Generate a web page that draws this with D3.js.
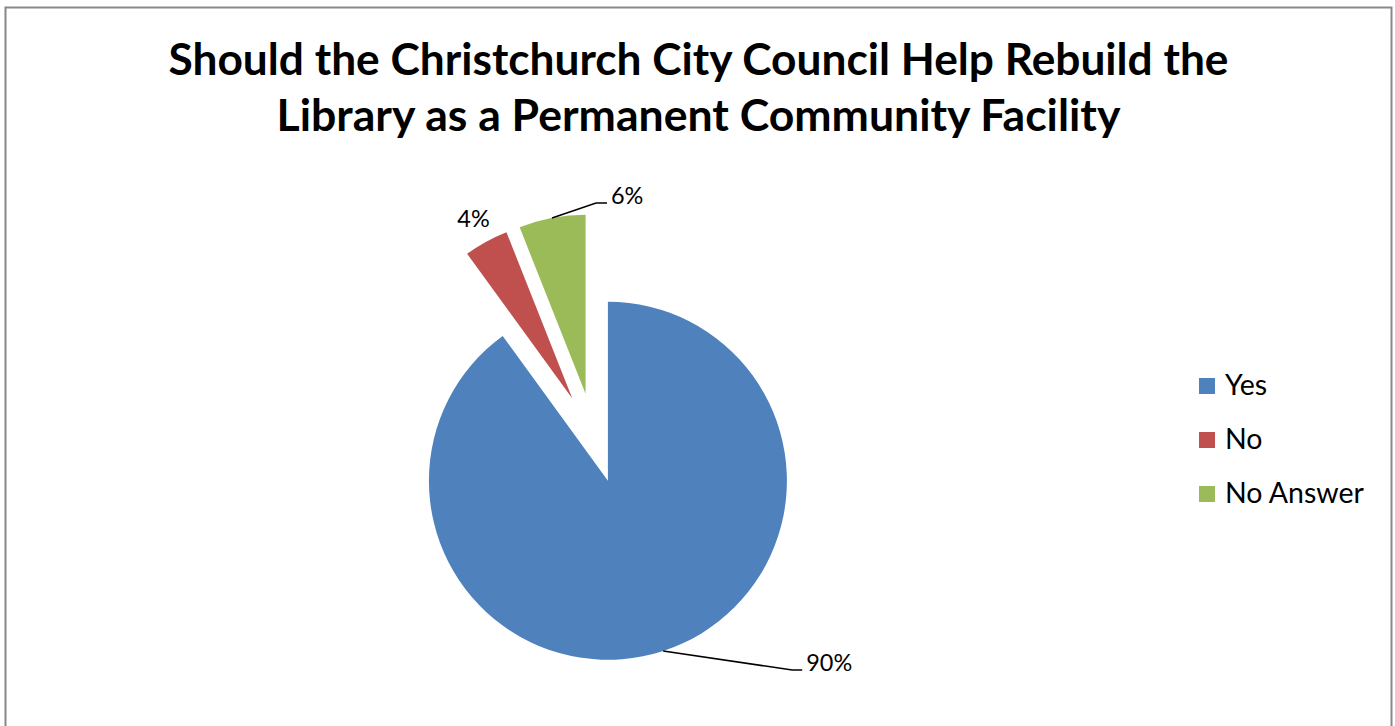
<html>
<head>
<style>
body
{
  margin:0;
  background:#fff;
}
</style>
<script src="https://cdnjs.cloudflare.com/ajax/libs/d3/7.8.5/d3.min.js"></script>
</head>
<body>
<script>
// chart data
var categories = ["Yes", "No", "No Answer"];
var values = [90, 4, 6];
var labels = ["90%", "4%", "6%"];
var colors = ["#4F81BD", "#C0504D", "#9BBB59"];
var titleLines = ["Should the Christchurch City Council Help Rebuild the",
                  "Library as a Permanent Community Facility"];

var w = 1395, h = 726;
var font = "Lato, 'Open Sans', sans-serif";

var svg = d3.select("body")
  .append("svg")
  .attr("width", w)
  .attr("height", h);

// chart frame
svg.append("rect")
  .attr("x", 5.5)
  .attr("y", 7.5)
  .attr("width", 1386)
  .attr("height", 740)
  .attr("fill", "#fff")
  .attr("stroke", "#888")
  .attr("stroke-width", 2);

// scale a text node so it is as wide as the target
function fit(sel, target)
{
  var tw = sel.node().getComputedTextLength();
  var fs = parseFloat(sel.attr("font-size"));
  sel.attr("font-size", fs * target / tw);
  return fs * target / tw;
}

// title
var titleWidths = [1060, 844];
var titleBase = [75, 131];
titleLines.forEach(function(t, i) {
  var tx = svg.append("text")
    .attr("x", 698.5)
    .attr("y", titleBase[i])
    .attr("text-anchor", "middle")
    .attr("font-family", font)
    .attr("font-weight", "bold")
    .attr("font-size", 40)
    .attr("fill", "#000")
    .text(t);
  fit(tx, titleWidths[i]);
});

// pie
var cx = 594, cy = 438;   // centre before explosion
var radius = 179;
var explode = 45;

var pie = d3.pie().sort(null).value(function(d) { return d; });
var arcs = pie(values);
var arc = d3.arc().innerRadius(0).outerRadius(radius);

function mid(a) { return (a.startAngle + a.endAngle) / 2; }
function offset(a, r) {
  var m = mid(a);
  return [Math.sin(m) * r, -Math.cos(m) * r];
}

var slices = svg.append("g")
  .attr("transform", "translate(" + cx + "," + cy + ")");

slices.selectAll("path")
  .data(arcs)
  .enter()
  .append("path")
  .attr("transform", function(d) {
    var o = offset(d, explode);
    return "translate(" + o[0] + "," + o[1] + ")";
  })
  .attr("d", arc)
  .attr("fill", function(d, i) { return colors[i]; });

// data labels (leader = elbow offset from the arc edge, null = free label)
var labelLayout = [
  {leader: [129, 19], tail: 10},
  {leader: null, r: 205},
  {leader: [44, -15], tail: 11}
];

var labelSize = 22;
arcs.forEach(function(d, i) {
  var o = offset(d, explode);
  var lay = labelLayout[i];
  var g = slices.append("g")
    .attr("transform", "translate(" + o[0] + "," + o[1] + ")");
  if(lay.leader)
  {
    var p0 = offset(d, radius);
    var p1 = [p0[0] + lay.leader[0], p0[1] + lay.leader[1]];
    var p2 = [p1[0] + lay.tail, p1[1]];
    g.append("path")
      .attr("d", d3.line()([p0, p1, p2]))
      .attr("fill", "none")
      .attr("stroke", "#000")
      .attr("stroke-width", 1.5);
    var t = g.append("text")
      .attr("x", p2[0] + 4)
      .attr("y", p2[1] + 1)
      .attr("font-family", font)
      .attr("font-size", labelSize)
      .attr("fill", "#000")
      .text(labels[i]);
    if(i == 0) labelSize = fit(t, 46);
  }
  else
  {
    var p = offset(d, lay.r);
    g.append("text")
      .attr("x", p[0])
      .attr("y", p[1] + 8)
      .attr("text-anchor", "middle")
      .attr("font-family", font)
      .attr("font-size", labelSize)
      .attr("fill", "#000")
      .text(labels[i]);
  }
});

// legend
var legendY = d3.scalePoint().domain(categories).range([386, 494]);
var legend = svg.append("g");
var items = legend.selectAll("g")
  .data(categories)
  .enter()
  .append("g")
  .attr("transform", function(d) { return "translate(1199," + legendY(d) + ")"; });

items.append("rect")
  .attr("x", 0)
  .attr("y", -8)
  .attr("width", 16)
  .attr("height", 16)
  .attr("fill", function(d, i) { return colors[i]; });

var legendText = items.append("text")
  .attr("x", 26)
  .attr("y", 9)
  .attr("font-family", font)
  .attr("font-size", 24)
  .attr("fill", "#000")
  .text(function(d) { return d; });

var ls = fit(d3.select(legendText.nodes()[2]), 139);
legendText.attr("font-size", ls);
</script>
</body>
</html>
